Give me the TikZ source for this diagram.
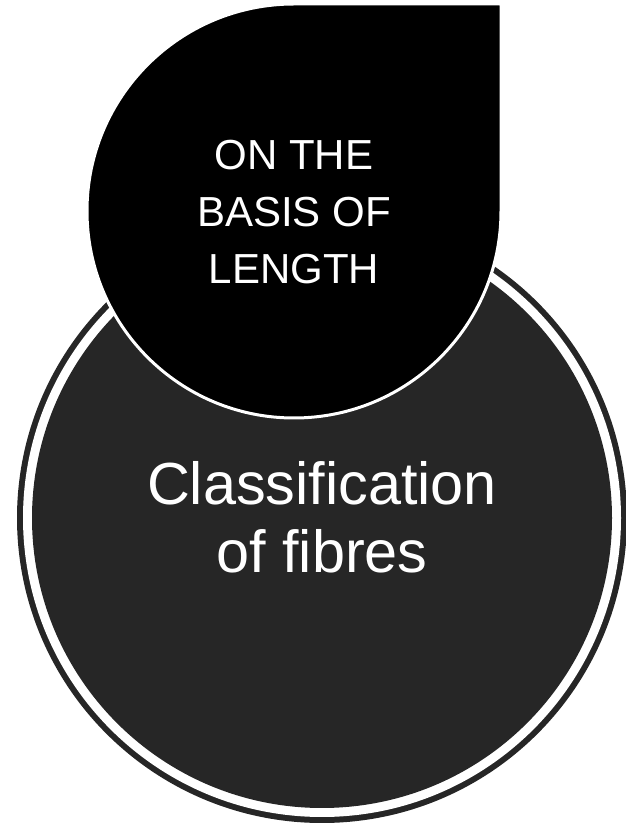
\documentclass[tikz,border=0pt]{standalone}
\usepackage{fontspec}
\setmainfont{Liberation Sans}[Ligatures=NoCommon]
\definecolor{ringdark}{HTML}{262626}
\tikzset{
  lbl/.style={text=white, align=center, inner sep=0pt},
}
\begin{document}
\begin{tikzpicture}[x=1pt,y=1pt]
\clip (0,0) rectangle (626,825);
\useasboundingbox (0,0) rectangle (626,825);
% large circle with white inner ring and dark outer ring
\fill[ringdark] (322,307) circle[radius=305];
\fill[white] (322,307) circle[radius=299];
\fill[ringdark] (322,307) circle[radius=290];
\node[lbl, font=\fontsize{59.4}{68}\selectfont] (classif) at (322,308) {Classification\\of fibres};
% teardrop
\filldraw[fill=black, draw=white, line width=3pt] (294,821) -- (501,821) -- (501,614)
  arc[start angle=0, end angle=-270, radius=207] -- cycle;
\node[lbl, font=\fontsize{42}{57}\selectfont] (length) at (294,613) {ON THE\\BASIS OF\\LENGTH};
\end{tikzpicture}
\end{document}
